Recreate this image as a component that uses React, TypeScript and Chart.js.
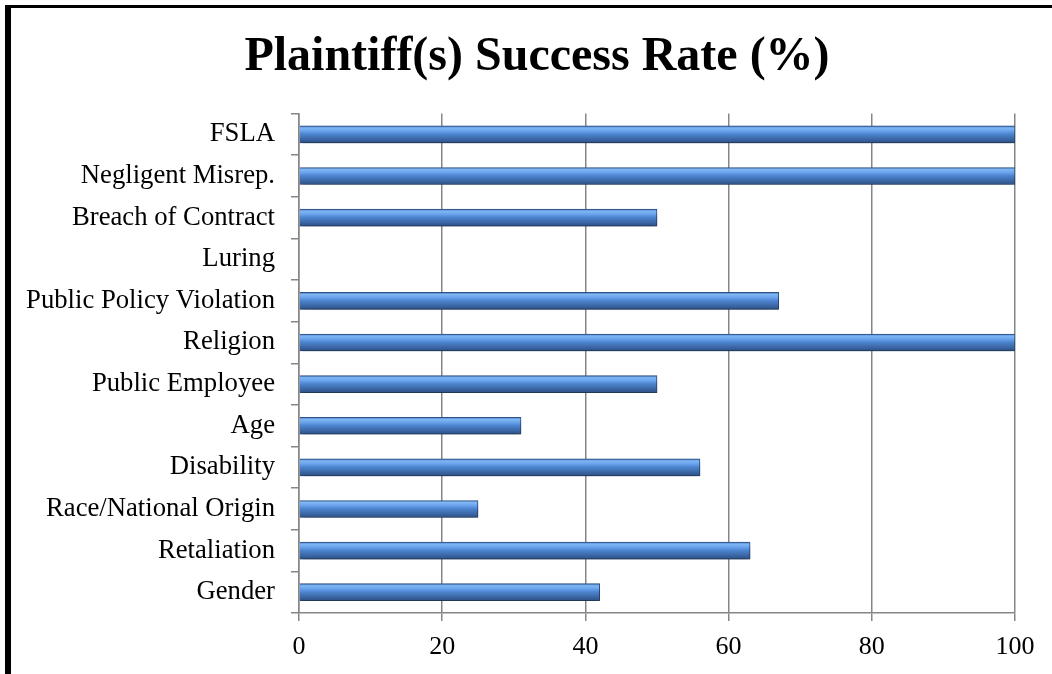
import React, { useEffect, useRef } from "react";
import { Chart, registerables } from "chart.js";

Chart.register(...registerables);

const categories = [
  "FSLA",
  "Negligent Misrep.",
  "Breach of Contract",
  "Luring",
  "Public Policy Violation",
  "Religion",
  "Public Employee",
  "Age",
  "Disability",
  "Race/National Origin",
  "Retaliation",
  "Gender",
];
const successRates = [100, 100, 50, 0, 67, 100, 50, 31, 56, 25, 63, 42];
const xMin = 0;
const xMax = 100;
const xStep = 20;
const chartTitle = "Plaintiff(s) Success Rate (%)";

const SERIF = "'Liberation Serif', 'Times New Roman', serif";
const BAR_THICKNESS = 17;

const shadowPlugin = {
  id: "barShadow",
  beforeDatasetsDraw(chart: any) {
    const ctx = chart.ctx;
    ctx.save();
    ctx.shadowColor = "rgba(0,0,0,0.4)";
    ctx.shadowBlur = 6;
    ctx.shadowOffsetX = 1;
    ctx.shadowOffsetY = 4;
  },
  afterDatasetsDraw(chart: any) {
    chart.ctx.restore();
  },
};

const titleCenterPlugin = {
  id: "titleCenter",
  afterLayout(chart: any) {
    const t = chart.titleBlock;
    if (t) {
      t.left = 59;
      t.right = 1015;
      t.width = t.right - t.left;
    }
  },
};

export default function App() {
  const ref = useRef<HTMLCanvasElement | null>(null);

  useEffect(() => {
    if (!ref.current) return;
    const chart = new Chart(ref.current, {
      type: "bar",
      data: {
        labels: categories,
        datasets: [
          {
            data: successRates,
            barThickness: BAR_THICKNESS,
            borderWidth: 1,
            borderColor: "#2f5489",
            borderSkipped: "left",
            backgroundColor: (c: any) => {
              const ch = c.chart;
              const ys = ch.scales && ch.scales.y;
              if (!ys || c.dataIndex === undefined) return "#4f86d0";
              const mid = ys.getPixelForValue(c.dataIndex);
              if (!isFinite(mid)) return "#4f86d0";
              const h = BAR_THICKNESS / 2;
              const g = ch.ctx.createLinearGradient(0, mid - h, 0, mid + h);
              g.addColorStop(0, "#3f70b5");
              g.addColorStop(0.12, "#7fb6f4");
              g.addColorStop(0.3, "#6aa3ec");
              g.addColorStop(0.48, "#4d85d0");
              g.addColorStop(0.75, "#3d6aa9");
              g.addColorStop(1, "#2c5185");
              return g;
            },
          },
        ],
      },
      options: {
        indexAxis: "y",
        responsive: false,
        animation: false,
        devicePixelRatio: 1,
        layout: { padding: { left: 0, right: 37, top: 0, bottom: 0 } },
        plugins: {
          legend: { display: false },
          tooltip: { enabled: false },
          title: {
            display: true,
            text: chartTitle,
            color: "#000",
            font: { family: SERIF, size: 48, weight: "bold", lineHeight: 1.2 },
            padding: { top: 29, bottom: 27 },
          },
        },
        scales: {
          x: {
            type: "linear",
            min: xMin,
            max: xMax,
            ticks: {
              stepSize: xStep,
              color: "#000",
              font: { family: SERIF, size: 26 },
              padding: 11,
              maxRotation: 0,
            },
            grid: {
              color: "#868686",
              lineWidth: 1.5,
              drawTicks: true,
              tickLength: 8,
            },
            border: { display: true, color: "#868686", width: 1.5 },
            afterFit: (s: any) => {
              s.height = 61;
            },
          },
          y: {
            type: "category",
            ticks: {
              color: "#000",
              font: { family: SERIF, size: 26.7 },
              padding: 16,
              autoSkip: false,
            },
            grid: {
              offset: true,
              drawOnChartArea: false,
              drawTicks: true,
              tickLength: 8,
              color: "#868686",
              lineWidth: 1.5,
            },
            border: { display: true, color: "#868686", width: 1.5 },
            afterFit: (s: any) => {
              s.width = 299;
            },
          },
        },
      },
      plugins: [shadowPlugin, titleCenterPlugin],
    });
    return () => chart.destroy();
  }, []);

  return (
    <div
      style={{
        position: "fixed",
        left: 0,
        top: 0,
        width: 1052,
        height: 674,
        overflow: "hidden",
        background: "#fff",
      }}
    >
      <div
        style={{
          position: "absolute",
          left: 5,
          top: 5,
          width: 3000,
          height: 3000,
          borderLeft: "6px solid #000",
          borderTop: "3px solid #000",
        }}
      />
      <canvas
        ref={ref}
        width={1052}
        height={674}
        style={{ position: "absolute", left: 0, top: 0, width: 1052, height: 674 }}
      />
    </div>
  );
}
